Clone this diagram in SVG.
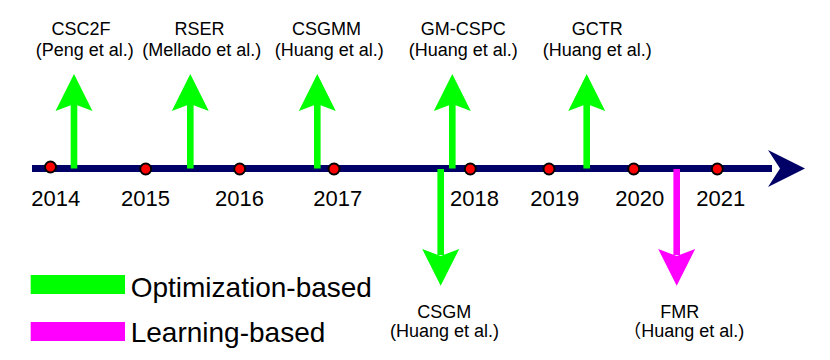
<svg xmlns="http://www.w3.org/2000/svg" width="830" height="360" viewBox="0 0 830 360">
<defs>
<style>
text{font-family:"Liberation Sans",Arial,"Noto Sans CJK SC",sans-serif;fill:#000}
.lbl{font-size:18px;text-anchor:middle}
.yr{font-size:22px;text-anchor:middle}
.leg{font-size:28px}
.dot{fill:#ff0000;stroke:#000;stroke-width:2}
.opt{fill:#00ff00}
.lrn{fill:#ff00ff}
</style>
<path id="up" d="M0,0 L18.5,37 L0,30 L-18.5,37 Z"/>
</defs>
<rect width="830" height="360" fill="#fff"/>
<g id="connectors">
<rect x="32" y="165" width="740" height="7" fill="#000066"/>
<path d="M768,150 L805,168.5 L768,187 L780,168.5 Z" fill="#000066"/>
<!-- up arrows -->
<g class="opt">
<rect x="70.7" y="104" width="6.6" height="64.5"/>
<path d="M74,74 L92.5,111 L74,104 L55.5,111 Z"/>
<rect x="187" y="104" width="6.6" height="64.5"/>
<path d="M190.3,74 L208.8,111 L190.3,104 L171.8,111 Z"/>
<rect x="314" y="104" width="6.6" height="64.5"/>
<path d="M317.3,74 L335.8,111 L317.3,104 L298.8,111 Z"/>
<rect x="449" y="104" width="6.6" height="64.5"/>
<path d="M452.3,74 L470.8,111 L452.3,104 L433.8,111 Z"/>
<rect x="583.4" y="104" width="6.6" height="64.5"/>
<path d="M586.7,74 L605.2,111 L586.7,104 L568.2,111 Z"/>
<rect x="437.4" y="169" width="6.6" height="86"/>
<path d="M440.7,285.7 L459.2,249 L440.7,256 L422.2,249 Z"/>
</g>
<g class="lrn">
<rect x="673.4" y="169" width="6.6" height="86"/>
<path d="M676.7,285.7 L695.2,249 L676.7,256 L658.2,249 Z"/>
</g>
</g>
<g id="years">
<circle class="dot" cx="50.5" cy="167" r="5.5"/>
<circle class="dot" cx="145.7" cy="169" r="5.5"/>
<circle class="dot" cx="239.7" cy="169" r="5.5"/>
<circle class="dot" cx="334" cy="169" r="5.5"/>
<circle class="dot" cx="470.3" cy="169" r="5.5"/>
<circle class="dot" cx="549" cy="169" r="5.5"/>
<circle class="dot" cx="633.7" cy="169" r="5.5"/>
<circle class="dot" cx="717.3" cy="169" r="5.5"/>
<text class="yr" x="55.8" y="206">2014</text>
<text class="yr" x="145.5" y="206">2015</text>
<text class="yr" x="239.5" y="206">2016</text>
<text class="yr" x="337.8" y="206">2017</text>
<text class="yr" x="474.5" y="206">2018</text>
<text class="yr" x="554.8" y="206">2019</text>
<text class="yr" x="639.7" y="206">2020</text>
<text class="yr" x="720.8" y="206">2021</text>
</g>
<g id="n-csc2f"><text class="lbl" x="81" y="35">CSC2F</text><text class="lbl" x="84.7" y="56">(Peng et al.)</text></g>
<g id="n-rser"><text class="lbl" x="199.5" y="35">RSER</text><text class="lbl" x="201.7" y="56">(Mellado et al.)</text></g>
<g id="n-csgmm"><text class="lbl" x="326.5" y="35">CSGMM</text><text class="lbl" x="329.3" y="56">(Huang et al.)</text></g>
<g id="n-gmcspc"><text class="lbl" x="463.3" y="35">GM-CSPC</text><text class="lbl" x="463.3" y="56">(Huang et al.)</text></g>
<g id="n-gctr"><text class="lbl" x="597.3" y="35">GCTR</text><text class="lbl" x="597.3" y="56">(Huang et al.)</text></g>
<g id="n-csgm"><text class="lbl" x="444.2" y="318">CSGM</text><text class="lbl" x="444.5" y="337">(Huang et al.)</text></g>
<g id="n-fmr"><text class="lbl" x="679.7" y="318">FMR</text><text class="lbl" x="683.7" y="337">（Huang et al.)</text></g>
<g id="legend">
<rect class="opt" x="30.7" y="275" width="94.3" height="19"/>
<rect class="lrn" x="30.7" y="322" width="94.3" height="19"/>
<text class="leg" x="130.7" y="296.5">Optimization-based</text>
<text class="leg" x="130.7" y="342">Learning-based</text>
</g>
</svg>
